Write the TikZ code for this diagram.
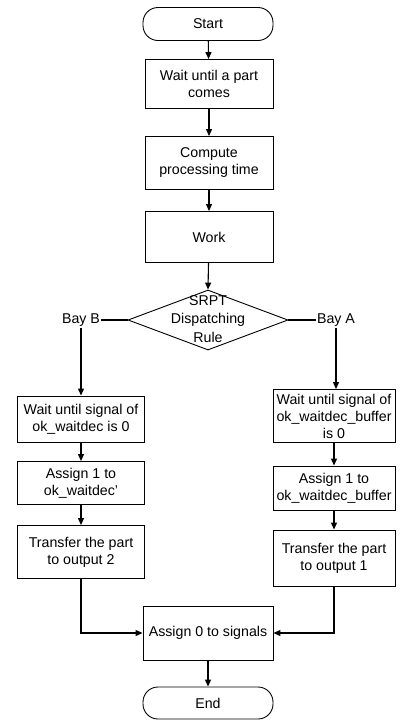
\documentclass[tikz,border=0pt]{standalone}
\usepackage{fontspec}
\setmainfont{Liberation Sans}
\usetikzlibrary{shapes.geometric,arrows.meta}
\begin{document}
\begin{tikzpicture}[x=1pt,y=-1pt,
  every node/.style={font=\fontsize{14.2}{17}\selectfont, align=center, inner sep=1pt},
  procbox/.style={draw, line width=0.9pt, rectangle},
  termbox/.style={draw, line width=0.9pt, rectangle, rounded corners=15pt},
  decbox/.style={draw, line width=0.9pt, shape=diamond, inner sep=0pt},
  flow/.style={line width=1.1pt, -{Triangle[length=7pt,width=6pt]}},
  plain/.style={line width=1.1pt}]
\useasboundingbox (0,0) rectangle (406,721);
\node[termbox, minimum width=130pt, minimum height=33pt] (start) at (208,24) {Start};
\node[procbox, minimum width=128pt, minimum height=49pt] (b1) at (209,84) {Wait until a part\\comes};
\node[procbox, minimum width=128pt, minimum height=53pt] (b2) at (209,163) {Compute\\processing time};
\node[procbox, minimum width=128pt, minimum height=51pt] (work) at (209,237) {Work};
\node[decbox, minimum width=160pt, minimum height=60pt] (dec) at (208,320) {};
\node[font=\fontsize{14.2}{18.5}\selectfont] (dectext) at (208,319) {SRPT\\Dispatching\\Rule};
\node (bayb) at (81,320) {Bay B};
\node (baya) at (336,320) {Bay A};
\node[procbox, minimum width=127pt, minimum height=46pt] (lb1) at (81,419) {Wait until signal of\\ok\_waitdec is 0};
\node[procbox, minimum width=127pt, minimum height=43pt] (lb2) at (81,483) {Assign 1 to\\ok\_waitdec'};
\node[procbox, minimum width=127pt, minimum height=53pt] (lb3) at (81,552) {Transfer the part\\to output 2};
\node[procbox, minimum width=122pt, minimum height=53pt] (rb1) at (334,416) {Wait until signal of\\ok\_waitdec\_buffer\\is 0};
\node[procbox, minimum width=122pt, minimum height=44pt] (rb2) at (334,488) {Assign 1 to\\ok\_waitdec\_buffer};
\node[procbox, minimum width=122pt, minimum height=56pt] (rb3) at (334,558) {Transfer the part\\to output 1};
\node[procbox, minimum width=130pt, minimum height=54pt] (a0) at (208,633) {Assign 0 to signals};
\node[termbox, minimum width=130pt, minimum height=32pt] (end) at (208,703) {End};
\draw[flow] (start) -- (b1);
\draw[flow] (b1) -- (b2);
\draw[flow] (b2) -- (work);
\draw[flow] (work) -- (dec.north);
\draw[plain] (bayb.east) -- (dec.west);
\draw[plain] (dec.east) -- (baya.west);
\draw[flow] (bayb.south) -- (bayb.south |- lb1.north);
\draw[flow] (baya.south) -- (baya.south |- rb1.north);
\draw[flow] (lb1) -- (lb2);
\draw[flow] (lb2) -- (lb3);
\draw[flow] (rb1) -- (rb2);
\draw[flow] (rb2) -- (rb3);
\draw[flow] (lb3.south) -- (lb3.south |- a0.west) -- (a0.west);
\draw[flow] (rb3.south) -- (rb3.south |- a0.east) -- (a0.east);
\draw[flow] (a0) -- (end);
\end{tikzpicture}
\end{document}
